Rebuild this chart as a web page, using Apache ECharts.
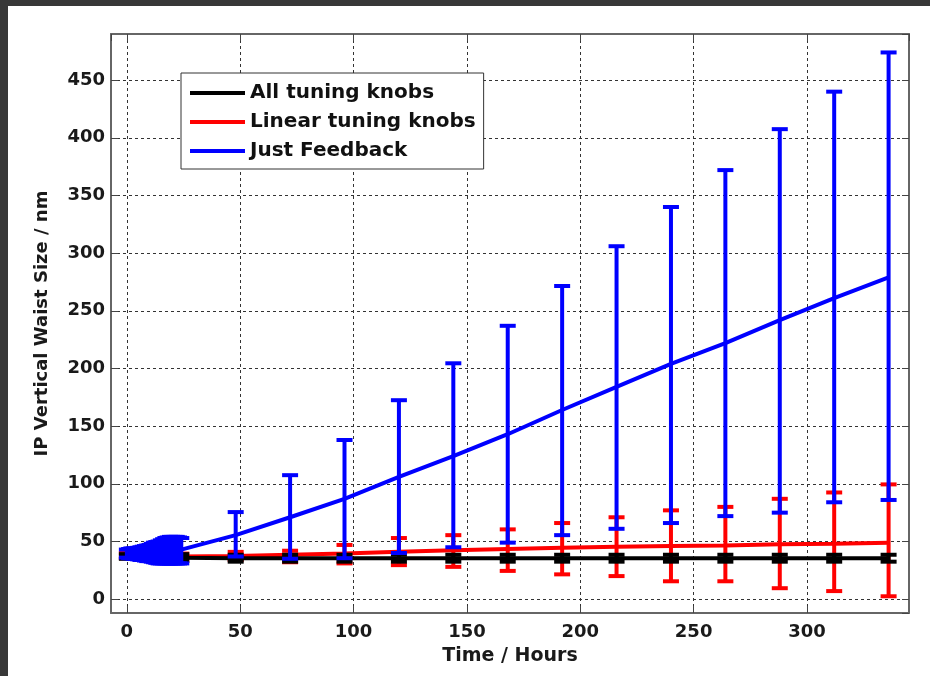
<!DOCTYPE html>
<html>
<head>
<meta charset="utf-8">
<script src="https://cdn.jsdelivr.net/npm/echarts@6/dist/echarts.min.js"></script>
<style>
  html, body { margin: 0; padding: 0; background: #383838; }
  #main { position: absolute; left: 8px; top: 6px; width: 922px; height: 670px; background: #fff; }
</style>
</head>
<body>
<div id="main"></div>
<script>
// time in hours
const hoursEarly = [0, 1, 2, 3, 4, 5, 6, 7, 8, 9, 10, 11, 12, 13, 14, 15, 16, 17, 18, 19, 20, 21, 22, 23, 24];
const hoursDaily = [0, 24, 48, 72, 96, 120, 144, 168, 192, 216, 240, 264, 288, 312, 336];
const hoursFeedback = [48, 72, 96, 120, 144, 168, 192, 216, 240, 264, 288, 312, 336];

// All tuning knobs (black), on hoursDaily
const allMean  = [37, 36, 35.5, 35.5, 35.5, 35.5, 35.5, 35.5, 35.5, 35.5, 35.5, 35.5, 35.5, 35.5, 35.5];
const allUpper = [39, 39, 38.5, 38.5, 38.5, 38.5, 38.5, 38.5, 38.5, 38.5, 38.5, 38.5, 38.5, 38.5, 38.5];
const allLower = [35, 33, 32.5, 32.5, 32.5, 32.5, 32.5, 32.5, 32.5, 32.5, 32.5, 32.5, 32.5, 32.5, 32.5];

// Linear tuning knobs (red), on hoursDaily
const linMean  = [37.5, 37, 37.5, 38.5, 39.5, 41, 42.5, 43.5, 44.5, 45.5, 46, 46.5, 47.5, 48, 49];
const linUpper = [40, 39.5, 41, 42, 47, 53, 55.5, 60.5, 66, 71, 77, 80, 87, 92.5, 99.5];
const linLower = [35.5, 33.5, 34, 32, 31, 29.5, 28, 24.5, 21.5, 20, 15.5, 15.5, 9.5, 7, 2.5];

// Just Feedback (blue), first day, hourly
const fbEarlyMean  = [39.5, 39.5, 39.5, 39.5, 39.5, 39.5, 39.5, 40, 40, 40, 40, 40, 40.5,
                      40.5, 40.5, 41, 41, 41, 41.5, 41.5, 42, 42, 42, 42.5, 43];
const fbEarlyUpper = [43, 43.5, 44, 44, 44, 44.5, 45, 45.5, 46, 46.5, 47, 48, 49,
                      49.5, 50, 51, 52, 53, 53.5, 54, 54, 54, 54, 53.5, 53];
const fbEarlyLower = [36, 35.5, 35.5, 35, 35, 34.5, 34, 34, 33.5, 33, 33, 32.5, 32,
                      31.5, 31, 31, 31, 31, 31, 31, 31, 31, 31, 31, 31];
// Just Feedback (blue), daily
const fbMean  = [55.5, 71, 87, 106, 124, 143, 164, 184, 204, 222, 242, 261, 279];
const fbUpper = [75.5, 107.5, 138, 172.5, 204.5, 237, 271.5, 306, 340, 372, 407.5, 440, 474];
const fbLower = [37, 35, 35.5, 40, 45, 49, 55.5, 61, 66, 72, 75, 84, 86];

const FONT = 'DejaVu Sans';

function pairs(xs, ys) { return xs.map((x, i) => [x, ys[i]]); }
function bars(xs, lo, hi) { return xs.map((x, i) => [x, lo[i], hi[i]]); }

function errorBar(color) {
  return function (params, api) {
    const x = api.value(0);
    const lo = api.coord([x, api.value(1)]);
    const hi = api.coord([x, api.value(2)]);
    const hw = 8;
    const st = { stroke: color, lineWidth: 4 };
    return {
      type: 'group',
      children: [
        { type: 'line', shape: { x1: lo[0], y1: lo[1], x2: hi[0], y2: hi[1] }, style: st },
        { type: 'line', shape: { x1: lo[0] - hw, y1: lo[1], x2: lo[0] + hw, y2: lo[1] }, style: st },
        { type: 'line', shape: { x1: hi[0] - hw, y1: hi[1], x2: hi[0] + hw, y2: hi[1] }, style: st }
      ]
    };
  };
}

const chart = echarts.init(document.getElementById('main'), null, { renderer: 'canvas' });

const gridLine = { show: true, lineStyle: { color: '#333', width: 1, type: [3, 3] } };
const frameLine = { show: true, onZero: false, lineStyle: { color: '#666', width: 2 } };
const tick = { show: true, inside: true, length: 7, lineStyle: { color: '#444', width: 1 } };
const labelStyle = { color: '#1a1a1a', fontFamily: FONT, fontWeight: 'bold', fontSize: 18 };

const option = {
  backgroundColor: '#fff',
  animation: false,
  grid: { left: 103, top: 28, right: 21, bottom: 63 },
  legend: {
    data: ['All tuning knobs', 'Linear tuning knobs', 'Just Feedback'],
    orient: 'vertical',
    left: 173,
    top: 67,
    icon: 'rect',
    itemWidth: 55,
    itemHeight: 4,
    itemGap: 9,
    padding: [10, 8, 8, 9],
    backgroundColor: '#fff',
    borderColor: '#333',
    borderWidth: 1,
    selectedMode: false,
    textStyle: { color: '#111', fontFamily: FONT, fontWeight: 'bold', fontSize: 20 }
  },
  xAxis: [{
    type: 'value',
    min: -7, max: 345,
    minInterval: 50, maxInterval: 50,
    name: 'Time / Hours',
    nameLocation: 'middle',
    nameGap: 34,
    nameTextStyle: { color: '#1a1a1a', fontFamily: FONT, fontWeight: 'bold', fontSize: 19 },
    axisLine: frameLine,
    axisTick: tick,
    axisLabel: Object.assign({ margin: 10, showMinLabel: false, showMaxLabel: false }, labelStyle),
    splitLine: gridLine
  }, {
    type: 'value',
    position: 'top',
    min: -7, max: 345,
    minInterval: 50, maxInterval: 50,
    axisLine: frameLine,
    axisTick: tick,
    axisLabel: { show: false },
    splitLine: { show: false }
  }],
  yAxis: [{
    type: 'value',
    min: -12, max: 490,
    minInterval: 50, maxInterval: 50,
    name: 'IP Vertical Waist Size / nm',
    nameLocation: 'middle',
    nameGap: 60,
    nameTextStyle: { color: '#1a1a1a', fontFamily: FONT, fontWeight: 'bold', fontSize: 18 },
    axisLine: frameLine,
    axisTick: tick,
    axisLabel: Object.assign({ margin: 6, showMinLabel: false, showMaxLabel: false }, labelStyle),
    splitLine: gridLine
  }, {
    type: 'value',
    position: 'right',
    min: -12, max: 490,
    minInterval: 50, maxInterval: 50,
    axisLine: frameLine,
    axisTick: tick,
    axisLabel: { show: false },
    splitLine: { show: false }
  }],
  series: [
    {
      name: 'err-linear', type: 'custom', z: 2,
      renderItem: errorBar('#ff0000'),
      encode: { x: 0, y: [1, 2] },
      data: bars(hoursDaily, linLower, linUpper)
    },
    {
      name: 'Linear tuning knobs', type: 'line', z: 2,
      symbol: 'none', color: '#ff0000',
      lineStyle: { width: 4, color: '#ff0000' },
      data: pairs(hoursDaily, linMean)
    },
    {
      name: 'err-all', type: 'custom', z: 3,
      renderItem: errorBar('#000000'),
      encode: { x: 0, y: [1, 2] },
      data: bars(hoursDaily, allLower, allUpper)
    },
    {
      name: 'All tuning knobs', type: 'line', z: 3,
      symbol: 'none', color: '#000000',
      lineStyle: { width: 4, color: '#000000' },
      data: pairs(hoursDaily, allMean)
    },
    {
      name: 'err-feedback', type: 'custom', z: 4,
      renderItem: errorBar('#0000ff'),
      encode: { x: 0, y: [1, 2] },
      data: bars(hoursEarly, fbEarlyLower, fbEarlyUpper).concat(bars(hoursFeedback, fbLower, fbUpper))
    },
    {
      name: 'Just Feedback', type: 'line', z: 4,
      symbol: 'none', color: '#0000ff',
      lineStyle: { width: 4, color: '#0000ff' },
      data: pairs(hoursEarly, fbEarlyMean).concat(pairs(hoursFeedback, fbMean))
    }
  ]
};

chart.setOption(option);
</script>
</body>
</html>
